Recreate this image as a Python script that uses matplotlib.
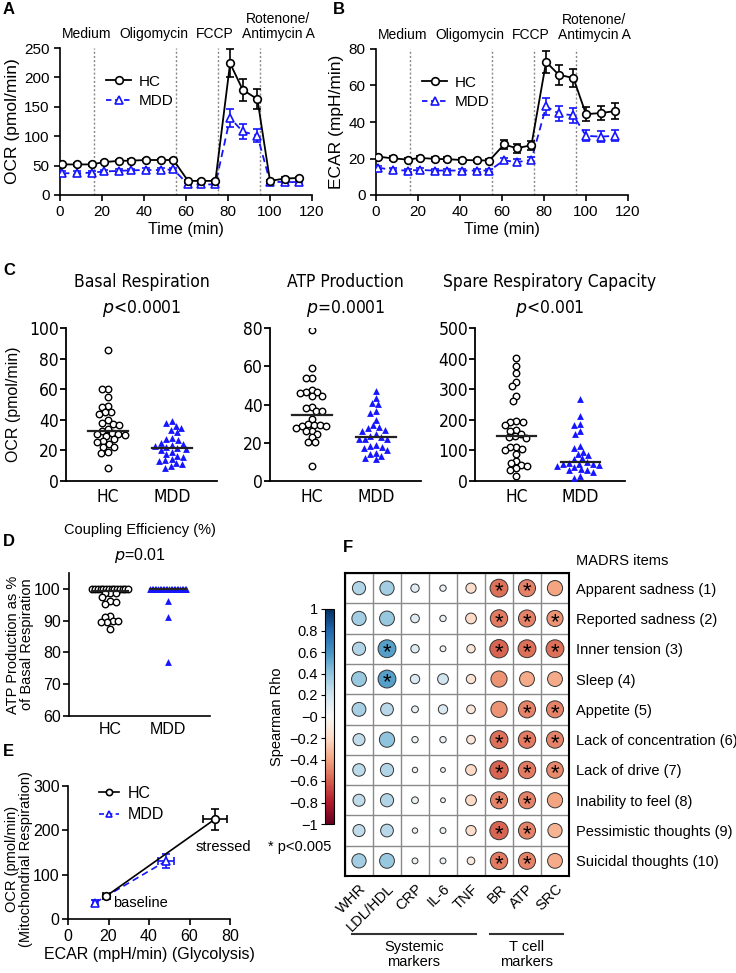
import numpy as np
import matplotlib
matplotlib.use('Agg')
import matplotlib.pyplot as plt
from matplotlib import font_manager as fm
from matplotlib.lines import Line2D
from matplotlib.ticker import FuncFormatter
import matplotlib.transforms as mtransforms

W, H = 736, 973
DPI = 100

names = {f.name for f in fm.fontManager.ttflist}
SANS = 'Liberation Sans' if 'Liberation Sans' in names else 'DejaVu Sans'
if 'Liberation Sans Narrow' in names:
    NARROW, NSTRETCH = 'Liberation Sans Narrow', 'normal'
elif any(f.name == 'DejaVu Sans' and 'Condensed' in f.fname for f in fm.fontManager.ttflist):
    NARROW, NSTRETCH = 'DejaVu Sans', 'condensed'
else:
    NARROW, NSTRETCH = SANS, 'normal'
plt.rcParams['font.family'] = [SANS, 'DejaVu Sans']
plt.rcParams['axes.unicode_minus'] = True

BLUE = '#1515ff'

# ---------------- data ----------------
time_min = [1, 8, 15, 21, 28, 34, 41, 48, 54, 61, 67, 74, 81, 87, 94, 100, 107, 114]
injections = [16, 55, 75, 95]
stage_names = ['Medium', 'Oligomycin', 'FCCP', 'Rotenone/\nAntimycin A']
stage_centers = [12.9, 44.8, 73.8, 103.8]

ocr_hc = [52, 52, 52, 56, 58, 58.5, 59.5, 59.5, 59.5, 24, 24, 24, 224, 179, 163, 24, 28, 29]
ocr_hc_err = [2, 2, 2, 2, 2, 2, 2, 2, 2, 2, 2, 2, 24, 19, 17, 2, 2, 2]
ocr_mdd = [37, 37, 38, 40, 41, 42, 42.5, 42.5, 43.5, 18, 18, 18, 131, 108, 101, 22.5, 22, 22]
ocr_mdd_err = [3, 3, 3, 3, 3, 3, 3, 3, 3, 2, 2, 2, 16, 12, 11, 2, 2, 2]

ecar_hc = [21, 20.1, 19.4, 20.3, 19.8, 19.6, 19.2, 19, 18.9, 27.7, 25.6, 27.3, 72.9, 65.9, 64.1, 44.3, 44.9, 46]
ecar_hc_err = [1, 1, 1, 1, 1, 1, 1, 1, 1, 2.5, 2.5, 2.5, 6, 5.5, 5, 3.8, 4, 4.2]
ecar_mdd = [15, 13.7, 13.4, 13.7, 13.4, 13.4, 13.4, 13.4, 13.4, 19, 18, 19.2, 48.5, 44.7, 43.6, 32.4, 32, 32.4]
ecar_mdd_err = [1, 1, 1, 1, 1, 1, 1, 1, 1, 1.5, 1.5, 1.5, 4.5, 4, 4, 3, 3, 3]

groups = ['HC', 'MDD']
basal_hc = [85.8, 60.4, 60, 54.8, 48.8, 48.6, 45.4, 45, 43.9, 39.8, 38, 37.2, 36.6, 34, 32.9,
            31.2, 30.7, 30.5, 30.1, 29.7, 27.3, 26.2, 25.4, 24.1, 22.1, 22.1, 19.1, 18.3, 8.8]
basal_mdd = [39.4, 37.8, 36.1, 34.8, 33.3, 32, 27.9, 27.5, 26.5, 25, 24.5, 23.7, 23.2, 22, 21.4,
             21, 20, 19, 17.5, 16.5, 15.5, 14.5, 13.5, 13, 12, 11, 10, 8.5]
atp_hc = [78.8, 59.2, 54, 54, 47.8, 46.3, 46.3, 45.8, 44.5, 44.5, 38.9, 38.4, 36.6, 36.6, 32.5,
          30, 29.4, 29.4, 28.7, 28.6, 27.7, 26.3, 26, 24.8, 22.9, 20.3, 20.3, 7.6]
atp_mdd = [47.1, 43.2, 40.6, 40.1, 36.8, 35.4, 32, 29.1, 28.2, 27.7, 26.8, 26.3, 24.8, 23.4, 23.1,
           22, 21.7, 21.7, 18.6, 18.2, 17.9, 17.4, 16.2, 14.8, 13.9, 13.1, 12.2, 11.4]
src_hc = [401, 377, 354, 324, 311, 278, 261, 195, 194, 192, 184, 168, 164, 154, 148, 143, 141,
          112, 112, 105, 100, 89, 66, 58, 53, 49, 44, 36, 15]
src_mdd = [268, 213, 186, 184, 164, 154, 114, 108, 96, 87, 85, 74, 71, 62, 60, 57, 55, 55, 52,
           50, 47, 38, 36, 35, 31, 15, 10]

coupling_hc = [100] * 14 + [98.8, 98.8, 98.8, 97.3, 96.2, 96, 95.3, 91.6, 91.3, 90, 89.8, 89.7, 89.5, 87.5]
coupling_mdd = [100] * 24 + [96.2, 91, 77]

# panel E: baseline / stressed (HC, MDD)
e_ecar_base = [19, 13.5]
e_ecar_base_err = [1.5, 1.2]
e_ocr_base = [52, 37]
e_ocr_base_err = [3, 5]
e_ecar_str = [72.5, 48.5]
e_ecar_str_err = [6, 4]
e_ocr_str = [225, 131]
e_ocr_str_err = [24, 15]

# panel F
markers_f = ['WHR', 'LDL/HDL', 'CRP', 'IL-6', 'TNF', 'BR', 'ATP', 'SRC']
madrs_items = ['Apparent sadness (1)', 'Reported sadness (2)', 'Inner tension (3)', 'Sleep (4)',
               'Appetite (5)', 'Lack of concentration (6)', 'Lack of drive (7)',
               'Inability to feel (8)', 'Pessimistic thoughts (9)', 'Suicidal thoughts (10)']
rho = np.array([
    [0.30, 0.35, 0.12, 0.07, -0.18, -0.55, -0.50, -0.40],
    [0.35, 0.38, 0.13, 0.07, -0.20, -0.52, -0.50, -0.45],
    [0.30, 0.55, 0.12, 0.06, -0.12, -0.58, -0.55, -0.55],
    [0.38, 0.55, 0.15, 0.20, -0.15, -0.45, -0.38, -0.38],
    [0.33, 0.28, 0.08, 0.15, -0.13, -0.45, -0.50, -0.50],
    [0.25, 0.40, 0.07, 0.07, -0.13, -0.55, -0.52, -0.50],
    [0.27, 0.30, 0.05, 0.04, -0.20, -0.58, -0.52, -0.48],
    [0.25, 0.30, 0.08, 0.04, -0.20, -0.50, -0.50, -0.40],
    [0.25, 0.28, 0.05, 0.06, -0.18, -0.58, -0.50, -0.35],
    [0.35, 0.38, 0.06, 0.06, -0.10, -0.52, -0.50, -0.38],
])
sig = np.array([
    [0, 0, 0, 0, 0, 1, 1, 0],
    [0, 0, 0, 0, 0, 1, 1, 1],
    [0, 1, 0, 0, 0, 1, 1, 1],
    [0, 1, 0, 0, 0, 0, 0, 0],
    [0, 0, 0, 0, 0, 0, 1, 1],
    [0, 0, 0, 0, 0, 1, 1, 1],
    [0, 0, 0, 0, 0, 1, 1, 1],
    [0, 0, 0, 0, 0, 1, 1, 0],
    [0, 0, 0, 0, 0, 1, 1, 0],
    [0, 0, 0, 0, 0, 1, 1, 0],
], dtype=bool)

# ---------------- figure ----------------
fig = plt.figure(figsize=(W / DPI, H / DPI), dpi=DPI)


def add_ax(l, t, r, b):
    return fig.add_axes([l / W, 1 - b / H, (r - l) / W, (b - t) / H])


def prism(ax, lw=1.2):
    for s in ['top', 'right']:
        ax.spines[s].set_visible(False)
    for s in ['left', 'bottom']:
        ax.spines[s].set_linewidth(lw)
        ax.spines[s].set_color('black')
    ax.tick_params(direction='out', length=4, width=lw, colors='black')


def letter(px, py, s):
    fig.text(px / W, 1 - py / H, s, fontsize=12, fontweight='bold', ha='left', va='center')


def seahorse(ax, hc, hce, mdd, mdde, ylim, yticks, ylabel):
    prism(ax)
    for x in injections:
        ax.axvline(x, color='#888888', ls=(0, (1.5, 1.5)), lw=1, zorder=1)
    ax.errorbar(time_min, hc, yerr=hce, color='black', lw=1.3, marker='o', ms=5.5,
                mfc='white', mec='black', mew=1.2, capsize=3, elinewidth=1.2, capthick=1.2, zorder=4)
    ax.errorbar(time_min, mdd, yerr=mdde, color=BLUE, lw=1.3, ls=(0, (4, 2.5)), marker='^', ms=5.5,
                mfc='white', mec=BLUE, mew=1.2, capsize=3, elinewidth=1.2, capthick=1.2, zorder=3)
    ax.set_xlim(0, 120)
    ax.set_ylim(*ylim)
    ax.set_xticks(range(0, 121, 20))
    ax.set_yticks(yticks)
    ax.tick_params(labelsize=11)
    ax.set_xlabel('Time (min)', fontsize=11.5, labelpad=2)
    ax.set_ylabel(ylabel, fontsize=12.5, labelpad=3)
    tr = mtransforms.blended_transform_factory(ax.transData, ax.transAxes)
    for name, xc in zip(stage_names, stage_centers):
        ax.text(xc, 1.045, name, transform=tr, ha='center', va='bottom', fontsize=10,
                linespacing=1.15)
    handles = [Line2D([], [], color='black', marker='o', mfc='white', mew=1.2, ms=5.5, lw=1.3),
               Line2D([], [], color=BLUE, ls=(0, (3, 2)), marker='^', mfc='white', mew=1.2, ms=5.5, lw=1.3)]
    ax.legend(handles, groups, loc='upper left', bbox_to_anchor=(0.16, 0.86), frameon=False,
              fontsize=11, handlelength=1.6, handletextpad=0.5, labelspacing=0.35, borderaxespad=0)


# Panel A
axA = add_ax(60, 48, 312, 195)
seahorse(axA, ocr_hc, ocr_hc_err, ocr_mdd, ocr_mdd_err, (0, 250), range(0, 251, 50), 'OCR (pmol/min)')
letter(3, 10, 'A')

# Panel B
axB = add_ax(376, 49, 628, 195)
seahorse(axB, ecar_hc, ecar_hc_err, ecar_mdd, ecar_mdd_err, (0, 80), range(0, 81, 20), 'ECAR (mpH/min)')
letter(333, 10, 'B')


# ---------------- swarm helper ----------------
def swarm(ax, center, values, d):
    vals = np.asarray(values, float)
    n = len(vals)
    pts = ax.transData.transform(np.column_stack([np.full(n, center), vals]))
    ys = pts[:, 1]
    x0 = pts[0, 0]
    order = np.argsort(-ys)
    placed = []
    xs = np.zeros(n)
    for i in order:
        y = ys[i]
        cands = [0.0]
        for (px, py) in placed:
            dy = abs(py - y)
            if dy < d:
                dx = np.sqrt(d * d - dy * dy)
                cands += [px + dx, px - dx]
        cands = sorted(cands, key=lambda c: (abs(c), c))
        chosen = cands[-1]
        for c in cands:
            if all((c - px) ** 2 + (y - py) ** 2 >= d * d - 1e-6 for px, py in placed):
                chosen = c
                break
        placed.append((chosen, y))
        xs[i] = chosen
    back = ax.transData.inverted().transform(np.column_stack([x0 + xs, ys]))
    return back[:, 0]


def dotplot(ax, hc, mdd, d=6.0, row_vals=None, row_half=19):
    for k, vals in enumerate([hc, mdd]):
        vals = np.asarray(vals, float)
        if row_vals is not None:
            tied = vals == row_vals
            rest = vals[~tied]
            nt = tied.sum()
            px0 = ax.transData.transform((k, row_vals))
            offs = np.linspace(-row_half, row_half, nt)
            tx = ax.transData.inverted().transform(
                np.column_stack([px0[0] + offs, np.full(nt, px0[1])]))[:, 0]
            xs_r = swarm(ax, k, rest, d) if len(rest) else np.array([])
            xs = np.concatenate([tx, xs_r])
            vals_plot = np.concatenate([np.full(nt, row_vals), rest])
        else:
            xs = swarm(ax, k, vals, d)
            vals_plot = vals
        if k == 0:
            ax.scatter(xs, vals_plot, s=22, facecolors='white', edgecolors='black', linewidths=1.0, zorder=3)
        else:
            ax.scatter(xs, vals_plot, s=24, marker='^', color=BLUE, linewidths=0, zorder=3)
        med = np.median(vals)
        ax.plot([k - 0.31, k + 0.31], [med, med], color='#222222', lw=1.6, zorder=4)


# Panel C
c_specs = [
    ((66, 328, 217, 481), basal_hc, basal_mdd, 100, 20, 'Basal Respiration', '<0.0001'),
    ((270, 328, 421, 481), atp_hc, atp_mdd, 80, 20, 'ATP Production', '=0.0001'),
    ((475, 328, 625, 481), src_hc, src_mdd, 500, 100, 'Spare Respiratory Capacity', '<0.001'),
]
for idx, (box, hc, mdd, ymax, step, title, ptxt) in enumerate(c_specs):
    ax = add_ax(*box)
    prism(ax, lw=1.3)
    ax.set_xlim(-0.65, 1.7)
    ax.set_ylim(0, ymax)
    ax.set_yticks(range(0, ymax + 1, step))
    ax.set_xticks([0, 1])
    ax.set_xticklabels(groups)
    ax.tick_params(axis='x', length=0, pad=5)
    ax.tick_params(axis='y', length=4, pad=1)
    for lab in ax.get_xticklabels() + ax.get_yticklabels():
        lab.set_fontfamily(NARROW)
        lab.set_fontstretch(NSTRETCH)
        lab.set_fontsize(12.5)
    dotplot(ax, hc, mdd, d=6.2)
    ax.text(0.5, 1.30, title, transform=ax.transAxes, ha='center', va='center',
            fontsize=12.5, family=NARROW, stretch=NSTRETCH)
    ax.text(0.5, 1.13, r'$\it{p}$' + ptxt, transform=ax.transAxes, ha='center', va='center',
            fontsize=12.5, family=NARROW, stretch=NSTRETCH)
    if idx == 0:
        ax.set_ylabel('OCR (pmol/min)', fontsize=11.5, labelpad=6)
letter(3, 270, 'C')

# Panel D
axD = add_ax(69, 573, 210, 716)
prism(axD)
axD.set_xlim(-0.71, 1.72)
axD.set_ylim(60, 105)
axD.set_yticks(range(60, 101, 10))
axD.set_xticks([0, 1])
axD.set_xticklabels(groups)
axD.tick_params(axis='x', length=0, pad=4, labelsize=11.5)
axD.tick_params(axis='y', labelsize=11.5, pad=2)
dotplot(axD, coupling_hc, coupling_mdd, d=5.6, row_vals=100, row_half=18)
axD.set_ylabel('ATP Production as %\nof Basal Respiration', fontsize=10.5, linespacing=1.0)
axD.yaxis.set_label_coords((34 - 69) / 141, 0.5)
axD.text(0.5, 1.30, 'Coupling Efficiency (%)', transform=axD.transAxes, ha='center', va='center', fontsize=10.5)
axD.text(0.5, 1.12, r'$\it{p}$=0.01', transform=axD.transAxes, ha='center', va='center', fontsize=11.5)
letter(3, 541, 'D')

# Panel E
axE = add_ax(68, 786, 230, 919)
prism(axE)
axE.set_xlim(0, 80)
axE.set_ylim(0, 300)
axE.set_xticks(range(0, 81, 20))
axE.set_yticks(range(0, 301, 100))
axE.tick_params(labelsize=11.5)
axE.tick_params(axis='y', pad=2)
for k, (col, ls, mk) in enumerate([('black', '-', 'o'), (BLUE, (0, (4, 2.5)), '^')]):
    axE.errorbar([e_ecar_base[k], e_ecar_str[k]], [e_ocr_base[k], e_ocr_str[k]],
                 xerr=[e_ecar_base_err[k], e_ecar_str_err[k]], yerr=[e_ocr_base_err[k], e_ocr_str_err[k]],
                 color=col, ls=ls, lw=1.2, marker=mk, ms=5.5, mfc='white', mec=col, mew=1.2,
                 capsize=3, elinewidth=1.2, capthick=1.2, zorder=3 - k)
axE.text(22, 36, 'baseline', fontsize=10.5, ha='left', va='center')
axE.text(63, 162, 'stressed', fontsize=10.5, ha='left', va='center', clip_on=False)
axE.set_xlabel('ECAR (mpH/min) (Glycolysis)', fontsize=11.5, labelpad=2)
axE.set_ylabel('OCR (pmol/min)\n(Mitochondrial Respiration)', fontsize=10.5, linespacing=1.0)
axE.yaxis.set_label_coords((33 - 68) / 162, 0.45)
handlesE = [Line2D([], [], color='black', marker='o', mfc='white', mew=1.2, ms=4.5, lw=1.2),
            Line2D([], [], color=BLUE, ls=(0, (3, 2)), marker='^', mfc='white', mew=1.2, ms=4.5, lw=1.2)]
axE.legend(handlesE, groups, loc='upper left', bbox_to_anchor=(0.15, 1.05), frameon=False,
           fontsize=11.5, handlelength=1.3, handletextpad=0.5, labelspacing=0.4, borderaxespad=0)
letter(3, 752, 'E')

# Panel F
axF = add_ax(345, 573, 569, 876)
nr, nc = rho.shape
axF.set_xlim(-0.5, nc - 0.5)
axF.set_ylim(nr - 0.5, -0.5)
cell_px = (569 - 345) / nc
XX, YY = np.meshgrid(np.arange(nc), np.arange(nr))
sizes = (0.86 * cell_px * 72 / DPI) ** 2 * np.abs(rho)
sc = axF.scatter(XX.ravel(), YY.ravel(), s=sizes.ravel(), c=rho.ravel(), cmap='RdBu', vmin=-1, vmax=1,
                 edgecolors='#333333', linewidths=0.7, zorder=3)
for i in range(nr):
    for j in range(nc):
        if sig[i, j]:
            axF.text(j, i + 0.13, '*', ha='center', va='center', fontsize=16, zorder=4)
axF.set_xticks(np.arange(-0.5, nc, 1), minor=True)
axF.set_yticks(np.arange(-0.5, nr, 1), minor=True)
axF.grid(which='minor', color='#8a8a8a', lw=1.0, zorder=0)
axF.set_xticks(range(nc))
axF.set_xticklabels(markers_f, rotation=45, ha='right', va='top', rotation_mode='anchor', fontsize=10.5)
axF.set_yticks(range(nr))
axF.set_yticklabels(madrs_items, fontsize=10.5)
axF.yaxis.tick_right()
axF.tick_params(which='both', length=0)
axF.tick_params(axis='x', pad=4)
axF.tick_params(axis='y', pad=5)
for s in axF.spines.values():
    s.set_linewidth(1.5)
    s.set_color('black')
axF.text(1.03, 1.04, 'MADRS items', transform=axF.transAxes, ha='left', va='center', fontsize=10.5)

# group labels below heatmap
trF = mtransforms.blended_transform_factory(axF.transData, axF.transAxes)
for (x0, x1, lab) in [(-0.25, 4.18, 'Systemic\nmarkers'), (4.68, 7.29, 'T cell\nmarkers')]:
    axF.plot([x0, x1], [-0.19, -0.19], transform=trF, color='#333333', lw=1.5, clip_on=False)
    axF.text((x0 + x1) / 2, -0.21, lab, transform=trF, ha='center', va='top', fontsize=10.5,
             linespacing=1.1)

caxF = add_ax(325, 609, 334, 824)
cb = fig.colorbar(sc, cax=caxF, ticks=np.round(np.arange(-1, 1.01, 0.2), 1))
cb.ax.yaxis.set_ticks_position('left')
cb.ax.yaxis.set_label_position('left')
cb.ax.tick_params(labelsize=10.5, length=3, width=0.8, pad=2)
cb.ax.yaxis.set_major_formatter(FuncFormatter(lambda v, p: ('%g' % round(v, 1)).replace('-', '\u2212')))
cb.outline.set_linewidth(0.8)
cb.set_label('Spearman Rho', fontsize=10.5, labelpad=4)
fig.text(268 / W, 1 - 847 / H, '* p<0.005', fontsize=10.5, ha='left', va='center')
letter(343, 548, 'F')

fig.savefig('out.png', dpi=DPI)
